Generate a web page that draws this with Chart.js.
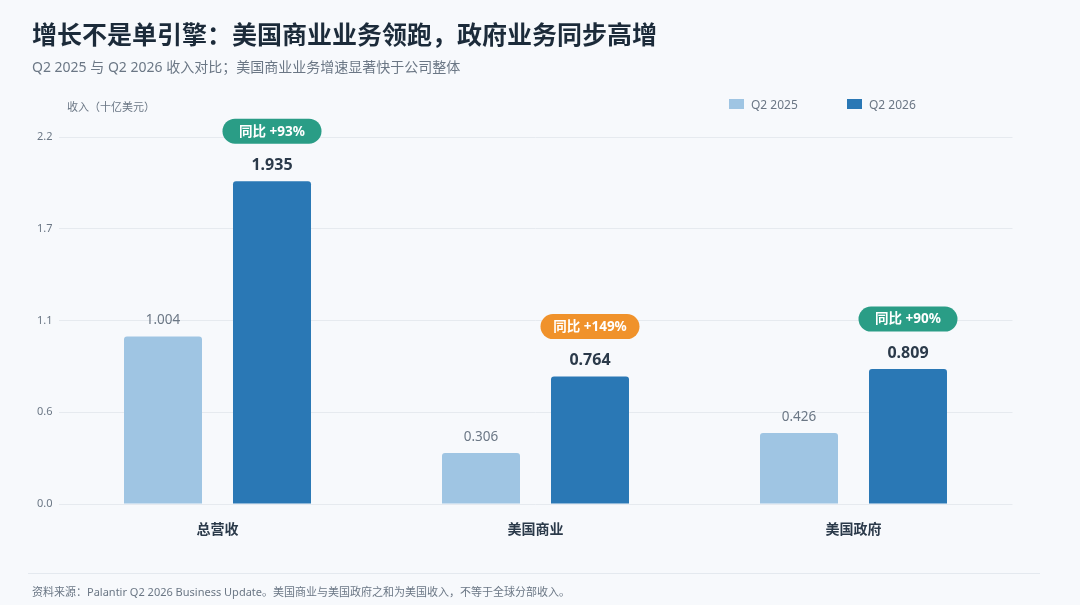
<!DOCTYPE html>
<html lang="zh-CN">
<head>
<meta charset="utf-8">
<title>增长不是单引擎</title>
<script src="https://cdn.jsdelivr.net/npm/chart.js@4.4.1/dist/chart.umd.min.js"></script>
<style>
  html, body { margin: 0; padding: 0; }
  body {
    width: 1080px; height: 605px; overflow: hidden; position: relative;
    background: #f7f9fc;
    font-family: "Noto Sans", "Noto Sans CJK SC", sans-serif;
  }
  #wrap { position: absolute; left: 0; top: 0; width: 1080px; height: 605px; }
  .txt { position: absolute; white-space: nowrap; }
  #title { left: 32px; top: 21px; line-height: 26px; font-size: 25px; font-weight: 700; color: #1c2b3a; }
  #subtitle { left: 32px; top: 58px; line-height: 18px; font-size: 14px; color: #6b7785; }
  #unit { left: 67px; top: 100px; line-height: 14px; font-size: 11px; color: #6b7785; }
  #footline { position: absolute; left: 28px; top: 573px; width: 1012px; height: 1px; background: #e4e9ef; }
  #source { left: 32px; top: 584px; line-height: 16px; font-size: 11px; color: #6b7785; }
  .leg { position: absolute; top: 97px; height: 14px; display: flex; align-items: center; font-size: 12px; color: #6b7785; }
  .leg span.box { display: inline-block; width: 15px; height: 10px; margin-right: 7px; }
</style>
</head>
<body>
<div id="wrap"><canvas id="chart"></canvas></div>
<div class="txt" id="title">增长不是单引擎：美国商业业务领跑，政府业务同步高增</div>
<div class="txt" id="subtitle">Q2 2025 与 Q2 2026 收入对比；美国商业业务增速显著快于公司整体</div>
<div class="txt" id="unit">收入（十亿美元）</div>
<div id="legend"></div>
<div id="footline"></div>
<div class="txt" id="source">资料来源：Palantir Q2 2026 Business Update。美国商业与美国政府之和为美国收入，不等于全球分部收入。</div>

<script>
// data
const categories = ["总营收", "美国商业", "美国政府"];
const seriesNames = ["Q2 2025", "Q2 2026"];
const q2_2025 = [1.004, 0.306, 0.426];
const q2_2026 = [1.935, 0.764, 0.809];
const yoyLabels = ["同比 +93%", "同比 +149%", "同比 +90%"];
const tickLabels = ["0.0", "0.6", "1.1", "1.7", "2.2"];

const lightBlue = "#9fc5e3";
const darkBlue = "#2a78b5";
const badgeColors = ["#2a9d86", "#f0922b", "#2a9d86"];

const FONT = '"Noto Sans", "Noto Sans CJK SC", sans-serif';

// value labels + yoy badges above the bars
const labelPlugin = {
    id: "labels",
    afterDatasetsDraw(chart) {
        let ctx = chart.ctx;
        ctx.save();
        ctx.textAlign = "center";
        ctx.textBaseline = "middle";

        chart.data.datasets.forEach(function (ds, di) {
            let meta = chart.getDatasetMeta(di);
            meta.data.forEach(function (bar, i) {
                let v = ds.data[i].toFixed(3);
                if (di === 0) {
                    ctx.font = "400 13.5px " + FONT;
                    ctx.fillStyle = "#6b7785";
                } else {
                    ctx.font = "700 16px " + FONT;
                    ctx.fillStyle = "#2b3a4a";
                }
                ctx.fillText(v, bar.x, bar.y - 16);

                if (di === 1) {
                    // badge
                    let text = yoyLabels[i];
                    ctx.font = "700 13.5px " + FONT;
                    let w = Math.max(ctx.measureText(text).width + 24, 99);
                    let h = 25;
                    let cy = bar.y - 50;
                    ctx.fillStyle = badgeColors[i];
                    ctx.beginPath();
                    ctx.roundRect(bar.x - w / 2, cy - h / 2, w, h, h / 2);
                    ctx.fill();
                    ctx.fillStyle = "#ffffff";
                    ctx.fillText(text, bar.x, cy + 0.5);
                }
            });
        });
        ctx.restore();
    }
};

let chart = new Chart(document.getElementById("chart"), {
    type: "bar",
    data: {
        labels: categories,
        datasets: [{
            label: seriesNames[0],
            data: q2_2025,
            backgroundColor: lightBlue,
            borderRadius: 3,
            borderSkipped: "bottom",
            categoryPercentage: 0.6855,
            barPercentage: 0.7156
        }, {
            label: seriesNames[1],
            data: q2_2026,
            backgroundColor: darkBlue,
            borderRadius: 3,
            borderSkipped: "bottom",
            categoryPercentage: 0.6855,
            barPercentage: 0.7156
        }]
    },
    options: {
        responsive: true,
        maintainAspectRatio: false,
        animation: false,
        devicePixelRatio: 1,
        layout: {
            padding: { left: 8.5, right: 67.5, top: 137, bottom: 51 }
        },
        plugins: {
            legend: { display: false },
            title: { display: false },
            tooltip: { enabled: false }
        },
        scales: {
            x: {
                grid: { display: false, drawTicks: false },
                border: { display: false },
                ticks: {
                    padding: 18,
                    color: "#2b3a4a",
                    font: { family: FONT, size: 14, weight: "700" }
                },
                afterFit: function (s) { s.height = 50; }
            },
            y: {
                min: 0,
                max: 2.2,
                grid: { color: "#e6eaef", lineWidth: 1, drawTicks: false },
                border: { display: false },
                ticks: {
                    stepSize: 0.55,
                    padding: 6,
                    color: "#6b7785",
                    font: { family: FONT, size: 11 },
                    callback: function (value, index) { return tickLabels[index]; }
                },
                afterFit: function (s) { s.width = 50; }
            }
        }
    },
    plugins: [labelPlugin]
});

// html legend from the datasets
let legend = document.getElementById("legend");
chart.data.datasets.forEach(function (ds, i) {
    let item = document.createElement("div");
    item.className = "leg";
    item.style.left = (729 + i * 118) + "px";
    item.innerHTML = '<span class="box" style="background:' + ds.backgroundColor + '"></span>' + ds.label;
    legend.appendChild(item);
});
</script>
</body>
</html>
